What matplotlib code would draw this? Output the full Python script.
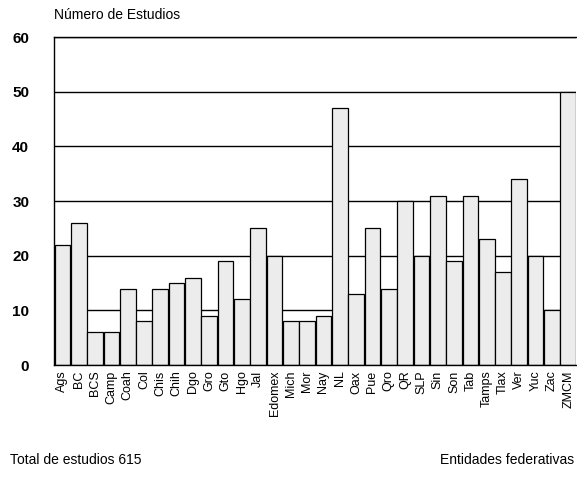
import matplotlib
matplotlib.use("Agg")
import matplotlib.pyplot as plt
import numpy as np

plt.rcParams['font.family'] = ['Liberation Sans Narrow', 'Liberation Sans', 'DejaVu Sans']

estados = ["Ags", "BC", "BCS", "Camp", "Coah", "Col", "Chis", "Chih", "Dgo", "Gro",
           "Gto", "Hgo", "Jal", "Edomex", "Mich", "Mor", "Nay", "NL", "Oax", "Pue",
           "Qro", "QR", "SLP", "Sin", "Son", "Tab", "Tamps", "Tlax", "Ver", "Yuc",
           "Zac", "ZMCM"]
estudios = [22, 26, 6, 6, 14, 8, 14, 15, 16, 9,
            19, 12, 25, 20, 8, 8, 9, 47, 13, 25,
            14, 30, 20, 31, 19, 31, 23, 17, 34, 20,
            10, 50]
yticks = [0, 10, 20, 30, 40, 50, 60]

fig = plt.figure(figsize=(5.77, 4.94), dpi=100)
ax = fig.add_axes([0.094, 0.261, 0.905, 0.664])

x = np.arange(len(estados))
for y in yticks[1:]:
    ax.axhline(y, color="black", lw=1.0, zorder=1)
ax.bar(x, estudios, width=0.96, color="#ececec", edgecolor="black", linewidth=0.9, zorder=2)

ax.set_xlim(-0.5, len(estados) - 0.5)
ax.set_ylim(0, 60)
ax.set_yticks(yticks)
ax.set_yticklabels([str(v) for v in yticks], fontsize=11, fontweight="bold")
ax.set_xticks(x)
ax.set_xticklabels(estados, rotation=90, fontsize=9)
ax.tick_params(axis="both", length=0, pad=4)
ax.tick_params(axis="y", pad=18)

for s in ["right"]:
    ax.spines[s].set_visible(False)
for s in ["left", "top", "bottom"]:
    ax.spines[s].set_linewidth(1.0)

fig.text(0.094, 0.955, "Número de Estudios", fontsize=10, ha="left", va="bottom")
fig.text(0.017, 0.068, "Total de estudios 615", fontsize=10, ha="left", va="center")
fig.text(0.995, 0.068, "Entidades federativas", fontsize=10, ha="right", va="center")

fig.savefig("out.png", dpi=100)
